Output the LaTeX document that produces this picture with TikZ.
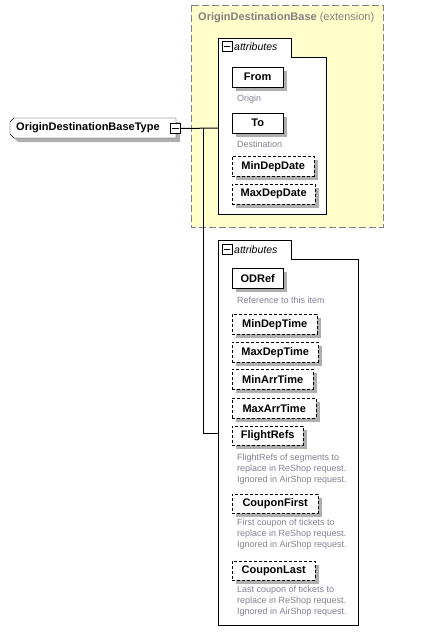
\documentclass[tikz,border=0pt]{standalone}
\usepackage{fontspec}
\setmainfont{Liberation Sans}
\usetikzlibrary{calc}
\definecolor{ybg}{RGB}{255,255,204}
\definecolor{ttl}{RGB}{128,128,128}
\definecolor{dsc}{RGB}{130,130,150}
\definecolor{shadowgray}{RGB}{175,175,175}
\pgfdeclarelayer{grp}
\pgfdeclarelayer{shadowlayer}
\pgfsetlayers{grp,shadowlayer,main}
\begin{document}
\begin{tikzpicture}[x=1pt,y=-1pt,
  line width=1pt,
  elem/.style={draw=black, fill=white, minimum height=20pt, inner sep=0pt,
    anchor=north west, font=\fontsize{11}{13}\selectfont\bfseries},
  opt/.style={elem, dash pattern=on 3pt off 2pt},
  desc/.style={anchor=north west, align=left, text=dsc, inner sep=0pt,
    font=\fontsize{9}{11}\selectfont},
  minusbox/.style={draw=black, fill=white, minimum size=10pt, inner sep=0pt},
  attrlbl/.style={anchor=west, inner sep=0pt, font=\fontsize{10.5}{12}\selectfont\itshape},
  conn/.style={draw=black, line width=1pt},
  grpbox/.style={draw=black, fill=white, line width=1pt},
  shadowfill/.style={fill=shadowgray, draw=none},
]
\useasboundingbox (0,0) rectangle (426,643);

\begin{pgfonlayer}{grp}
% extension box
\draw[ttl, dash pattern=on 7pt off 3pt, fill=ybg] (191,5) rectangle (383,227);
% top attributes group
\draw[grpbox] (218,38) -- (291,38) -- (291,57) -- (326,57) -- (326,214) -- (218,214) -- cycle;
% bottom attributes group
\draw[grpbox] (218,240) -- (291,240) -- (291,259) -- (358,259) -- (358,625) -- (218,625) -- cycle;
\end{pgfonlayer}

\node[anchor=west, inner sep=0pt, text=ttl, font=\fontsize{11}{13}\selectfont\bfseries] (ext) at (198,18) {OriginDestinationBase \textmd{(extension)}};

% root
\path[shadowfill] (18,122) -- (180,122) -- (180,142) -- (18,142) -- (14,138) -- (14,126) -- cycle;
\draw[fill=white] (14,118) -- (176,118) -- (176,138) -- (14,138) -- (10,134) -- (10,122) -- cycle;
\node[anchor=west, inner sep=0pt, font=\fontsize{11}{13}\selectfont\bfseries] (root) at (16,128) {OriginDestinationBaseType};
\node[minusbox] (rm) at (175.5,128.5) {};
\draw ([xshift=2pt]rm.west) -- ([xshift=-2pt]rm.east);

% top attributes
\node[minusbox] (am1) at (227,46.5) {};
\draw ([xshift=2pt]am1.west) -- ([xshift=-2pt]am1.east);
\node[attrlbl] (al1) at (234,47) {attributes};
\coordinate (a1in) at (218,128);

\node[elem, minimum width=51pt] (from) at (232,67) {From};
\node[desc, anchor=west] (dfrom) at (237,99) {Origin};
\node[elem, minimum width=51pt] (to) at (232,113) {To};
\node[desc, anchor=west] (dto) at (237,144) {Destination};
\node[opt, minimum width=82pt] (mindd) at (232,156) {MinDepDate};
\node[opt, minimum width=83pt] (maxdd) at (232,184) {MaxDepDate};

% bottom attributes
\node[minusbox] (am2) at (227,249.5) {};
\draw ([xshift=2pt]am2.west) -- ([xshift=-2pt]am2.east);
\node[attrlbl] (al2) at (234,250) {attributes};
\coordinate (a2in) at (218,433);

\node[elem, minimum width=51pt] (odref) at (232,268) {ODRef};
\node[desc, anchor=west] (dodref) at (237,300) {Reference to this item};
\node[opt, minimum width=85pt] (mindt) at (232,314) {MinDepTime};
\node[opt, minimum width=86pt] (maxdt) at (232,342) {MaxDepTime};
\node[opt, minimum width=81pt] (minat) at (232,369) {MinArrTime};
\node[opt, minimum width=84pt] (maxat) at (232,398) {MaxArrTime};
\node[opt, minimum width=71pt, minimum height=19pt] (frefs) at (232,426) {FlightRefs};
\node[desc] (dfrefs) at (237,453.5) {FlightRefs of segments to\\replace in ReShop request.\\Ignored in AirShop request.};
\node[opt, minimum width=86pt, minimum height=19pt] (cfirst) at (232,494) {CouponFirst};
\node[desc] (dcfirst) at (237,519) {First coupon of tickets to\\replace in ReShop request.\\Ignored in AirShop request.};
\node[opt, minimum width=83pt, minimum height=19pt] (clast) at (232,561) {CouponLast};
\node[desc] (dclast) at (237,586) {Last coupon of tickets to\\replace in ReShop request.\\Ignored in AirShop request.};

% shadows
\begin{pgfonlayer}{shadowlayer}
\foreach \n in {from,to,mindd,maxdd,odref,mindt,maxdt,minat,maxat,frefs,cfirst,clast}
  \path[shadowfill] ($(\n.north west)+(4,4)$) rectangle ($(\n.south east)+(4,4)$);
\end{pgfonlayer}

% connectors
\coordinate (j1) at (203,128);
\coordinate (j2) at (203,433);
\draw[conn] (rm.east) -- (a1in);
\draw[conn] (j1) -- (j2) -- (a2in);
\end{tikzpicture}
\end{document}
